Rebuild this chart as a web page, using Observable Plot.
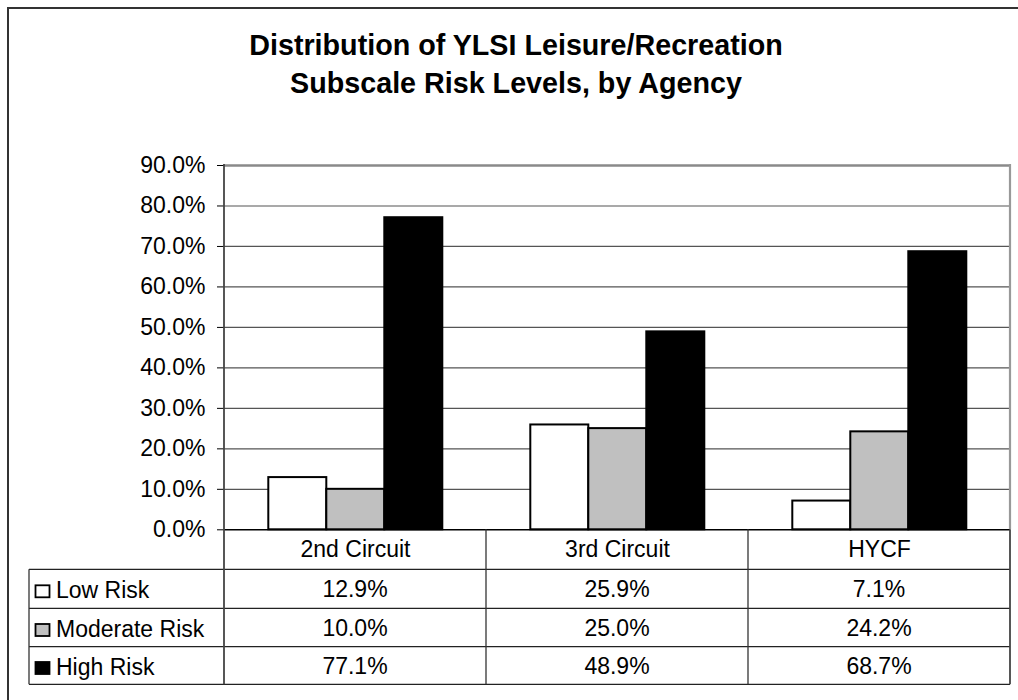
<!DOCTYPE html>
<html>
<head>
<meta charset="utf-8">
<script src="https://cdn.jsdelivr.net/npm/d3@7"></script>
<script src="https://cdn.jsdelivr.net/npm/@observablehq/plot@0.6"></script>
<style>
  body { margin: 0; background: #fff; }
  #wrap { position: relative; width: 1018px; height: 700px; overflow: hidden;
          font-family: "Liberation Sans", Arial, sans-serif; background: #fff; }
  #frame { position: absolute; left: 7px; top: 7px; width: 1040px; height: 740px;
           border: 2px solid #333; box-sizing: border-box; }
  #title { position: absolute; left: 14px; top: 27px; width: 1004px; text-align: center;
           font-weight: bold; font-size: 28.7px; line-height: 37.5px; color: #000; }
  #chart { position: absolute; left: 0; top: 0; }
</style>
</head>
<body>
<div id="wrap">
  <div id="frame"></div>
  <div id="chart"></div>
  <div id="title">Distribution of YLSI Leisure/Recreation<br>Subscale Risk Levels, by Agency</div>
</div>
<script>
// ---- data ----
const agencies = ["2nd Circuit", "3rd Circuit", "HYCF"];
const risks = ["Low Risk", "Moderate Risk", "High Risk"];
const lowRisk = [12.9, 25.9, 7.1];
const moderateRisk = [10.0, 25.0, 24.2];
const highRisk = [77.1, 48.9, 68.7];
const yTicks = [0, 10, 20, 30, 40, 50, 60, 70, 80, 90];
const riskFills = ["#ffffff", "#c0c0c0", "#000000"];

const seriesValues = [lowRisk, moderateRisk, highRisk];
const data = agencies.flatMap((a, i) =>
  risks.map((r, j) => ({ agency: a, risk: r, value: seriesValues[j][i] })));
const fmt = d => d.toFixed(1) + "%";

const W = 1018, H = 700;
const mTop = 165, mBottom = 170.7, mLeft = 222.7, mRight = 7.3;

const plot = Plot.plot({
  width: W, height: H,
  marginTop: mTop, marginBottom: mBottom, marginLeft: mLeft, marginRight: mRight,
  style: { fontFamily: "'Liberation Sans', Arial, sans-serif", fontSize: "23px",
           color: "#000", background: "transparent", overflow: "visible" },
  fx: { domain: agencies, padding: 0, label: null, axis: "bottom", tickSize: 0, tickPadding: 11 },
  x: { domain: risks, paddingInner: 0, paddingOuter: 0.75, axis: null },
  y: { domain: [0, 90], ticks: yTicks, tickFormat: fmt, tickSize: 7, tickPadding: 12, label: null },
  color: { domain: risks, range: riskFills },
  marks: [
    Plot.ruleY(yTicks.filter(t => t > 0 && t < 90), { stroke: "#555", strokeWidth: 1.2 }),
    Plot.ruleY([90], { stroke: "#8a8a8a", strokeWidth: 2.5 }),
    Plot.barY(data, { fx: "agency", x: "risk", y: "value", fill: "risk", stroke: "#000", strokeWidth: 2 }),
    Plot.ruleY([0], { stroke: "#000", strokeWidth: 1.5 })
  ]
});
document.getElementById("chart").appendChild(plot);

// ---- data table below the plot, positioned from Plot's scales ----
const fx = plot.scale("fx");
const ys = plot.scale("y");
const bw = fx.bandwidth;
const yTop = ys.apply(90), y0 = ys.apply(0);
const xL = fx.apply(agencies[0]);
const xR = fx.apply(agencies[agencies.length - 1]) + bw;
const tableLeft = 29;
const rowEdges = [y0, y0 + 40, y0 + 79, y0 + 117.4, y0 + 155];

const svg = d3.select(plot);
const g = svg.append("g").attr("class", "table");

// horizontal lines
rowEdges.slice(1).forEach(yy => {
  g.append("line").attr("x1", tableLeft).attr("x2", xR).attr("y1", yy).attr("y2", yy)
    .attr("stroke", "#222").attr("stroke-width", 1.3);
});
// left table edge
g.append("line").attr("x1", tableLeft).attr("x2", tableLeft)
  .attr("y1", rowEdges[1]).attr("y2", rowEdges[4]).attr("stroke", "#333").attr("stroke-width", 1.3);
// value axis line (continues through the table)
g.append("line").attr("x1", xL).attr("x2", xL).attr("y1", yTop - 1).attr("y2", rowEdges[4])
  .attr("stroke", "#444").attr("stroke-width", 1.8);
// column separators
agencies.slice(1).forEach(a => {
  const xx = fx.apply(a);
  g.append("line").attr("x1", xx).attr("x2", xx).attr("y1", y0).attr("y2", rowEdges[4])
    .attr("stroke", "#333").attr("stroke-width", 1.3);
});
// right edge: plot area border (grey) and table border (dark)
g.append("line").attr("x1", xR).attr("x2", xR).attr("y1", yTop - 1).attr("y2", y0)
  .attr("stroke", "#999").attr("stroke-width", 2.2);
g.append("line").attr("x1", xR).attr("x2", xR).attr("y1", y0).attr("y2", rowEdges[4])
  .attr("stroke", "#444").attr("stroke-width", 1.8);

// rows: legend key + values
risks.forEach((r, j) => {
  const yc = (rowEdges[j + 1] + rowEdges[j + 2]) / 2;
  g.append("rect").attr("x", 35.5).attr("y", yc - 3.5).attr("width", 14).attr("height", 12)
    .attr("fill", riskFills[j]).attr("stroke", "#000").attr("stroke-width", 1.8);
  g.append("text").attr("x", 56).attr("y", yc).attr("dy", "0.42em")
    .attr("text-anchor", "start")
    .attr("font-family", "'Liberation Sans', Arial, sans-serif").attr("font-size", 23)
    .attr("fill", "#000").text(r);
  agencies.forEach((a, i) => {
    g.append("text").attr("x", fx.apply(a) + bw / 2).attr("y", yc).attr("dy", "0.36em")
      .attr("text-anchor", "middle")
      .attr("font-family", "'Liberation Sans', Arial, sans-serif").attr("font-size", 23)
      .attr("fill", "#000").text(fmt(seriesValues[j][i]));
  });
});
</script>
</body>
</html>
